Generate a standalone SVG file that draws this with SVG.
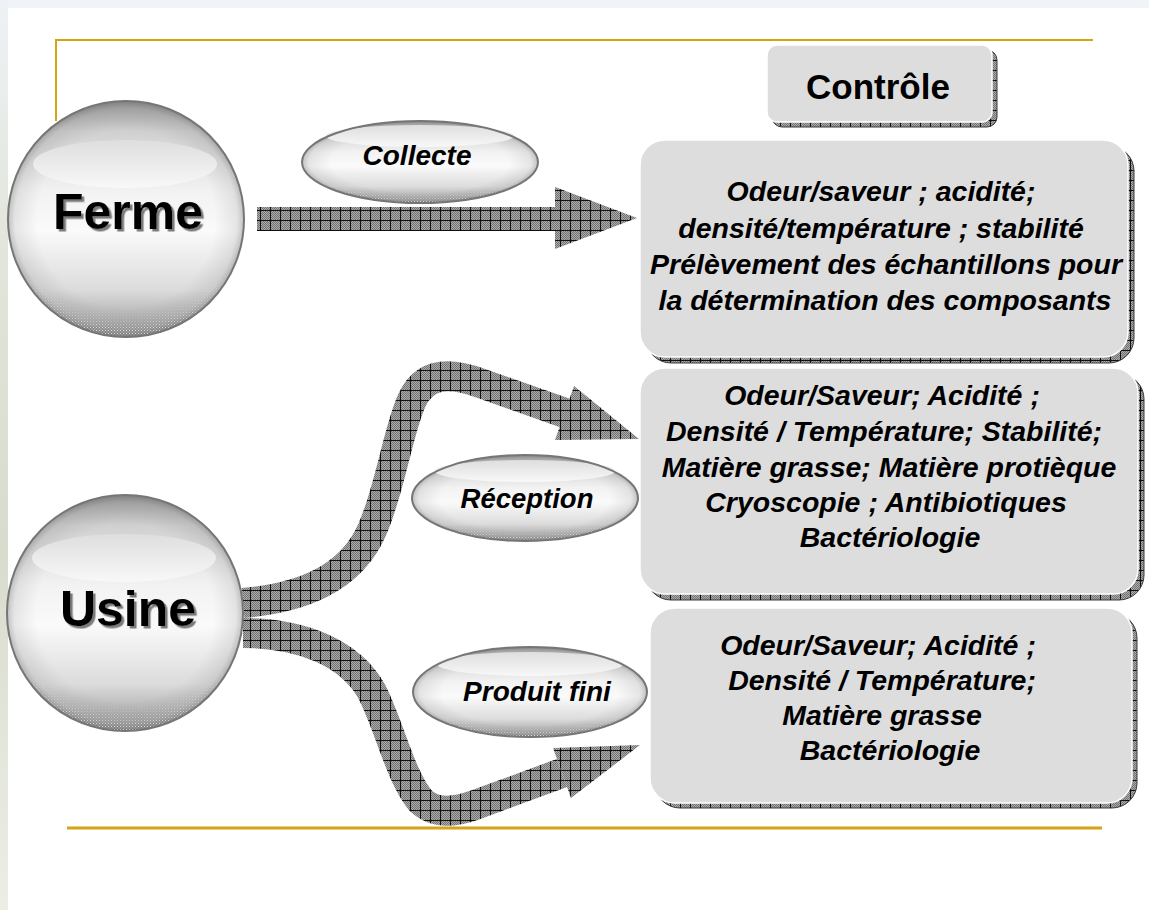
<svg xmlns="http://www.w3.org/2000/svg" width="1149" height="910" viewBox="0 0 1149 910">
<defs>
  <style>
    .lbl{font-family:"Liberation Sans",Arial,sans-serif;font-weight:bold;font-style:italic;fill:#000;text-anchor:middle}
    .big{font-family:"Liberation Sans",Arial,sans-serif;font-weight:bold;font-size:50px;text-anchor:middle;fill:#000;filter:url(#tshadow)}
    .box{fill:#dddddd;stroke:#ffffff;stroke-width:1.5}
    .shadow{fill:url(#grid);stroke:#3a3a3a;stroke-width:1}
    .band{fill:none;stroke:url(#grid);stroke-width:30}
    .head{fill:url(#grid)}
    .outline{fill:none;stroke:#767676;stroke-width:2}
  </style>
  <filter id="tshadow" x="-10%" y="-10%" width="130%" height="140%">
    <feDropShadow dx="2.5" dy="2.5" stdDeviation="0.6" flood-color="#7a7a7a" flood-opacity="1"/>
  </filter>
  <pattern id="fine" width="2" height="2" patternUnits="userSpaceOnUse">
    <rect width="2" height="2" fill="#ababab"/>
    <rect width="1" height="1" fill="#737373"/>
    <rect x="1" y="1" width="1" height="1" fill="#737373"/>
  </pattern>
  <pattern id="grid" width="10" height="10" patternUnits="userSpaceOnUse">
    <rect width="10" height="10" fill="url(#fine)"/>
    <path d="M0 0.5H10M0.5 0V10" stroke="#111" stroke-width="1"/>
  </pattern>
  <pattern id="dots" width="3" height="3" patternUnits="userSpaceOnUse">
    <rect width="1" height="1" fill="#ffffff"/>
    <rect x="1.5" y="1.5" width="1" height="1" fill="#e4e4e4"/>
  </pattern>
  <linearGradient id="sphV" x1="0" y1="0" x2="0" y2="1">
    <stop offset="0" stop-color="#a2a2a2"/>
    <stop offset="0.13" stop-color="#d0d0d0"/>
    <stop offset="0.38" stop-color="#f2f2f2"/>
    <stop offset="0.55" stop-color="#fafafa"/>
    <stop offset="0.8" stop-color="#dcdcdc"/>
    <stop offset="1" stop-color="#969696"/>
  </linearGradient>
  <radialGradient id="edge" cx="0.5" cy="0.5" r="0.5">
    <stop offset="0.75" stop-color="#000" stop-opacity="0"/>
    <stop offset="0.94" stop-color="#000" stop-opacity="0.08"/>
    <stop offset="1" stop-color="#000" stop-opacity="0.22"/>
  </radialGradient>
  <linearGradient id="lens" x1="0" y1="0" x2="0" y2="1">
    <stop offset="0" stop-color="#dedede"/>
    <stop offset="1" stop-color="#f8f8f8"/>
  </linearGradient>
  <radialGradient id="cresc" cx="0.5" cy="0.25" r="0.8">
    <stop offset="0.8" stop-color="#000"/>
    <stop offset="0.92" stop-color="#fff"/>
  </radialGradient>
  <mask id="lowMask" maskContentUnits="objectBoundingBox">
    <rect width="1" height="1" fill="url(#cresc)"/>
  </mask>
  <linearGradient id="leftbg" x1="0" y1="0" x2="0" y2="1">
    <stop offset="0" stop-color="#eef2f6"/>
    <stop offset="0.25" stop-color="#e2e6dc"/>
    <stop offset="0.6" stop-color="#d8dccd"/>
    <stop offset="1" stop-color="#eceee6"/>
  </linearGradient>
</defs>

<g id="background">
  <rect width="1149" height="910" fill="#ffffff"/>
  <rect width="1149" height="8" fill="#f0f3f7"/>
  <rect width="8" height="910" fill="url(#leftbg)"/>
</g>

<g id="frame">
  <path d="M56,121 V40 H1093" fill="none" stroke="#d6a413" stroke-width="2"/>
  <line x1="67" y1="828" x2="1102" y2="828" stroke="#d4a419" stroke-width="3"/>
</g>

<g id="connectors">
  <polygon class="head" points="257,207 555,207 555,187 637,218 555,249 555,231 257,231"/>
  <path class="band" d="M243,603 C300,598 350,580 372,530 C390,490 398,430 412,400 C425,372 450,372 480,383 L565,413"/>
  <polygon class="head" points="574,386 639,439 555,440"/>
  <path class="band" d="M243,633 C300,633 350,652 372,692 C390,728 400,775 420,800 C435,815 455,812 475,805 L562,773"/>
  <polygon class="head" points="553,748 640,745 571,798"/>
</g>

<g id="ferme">
  <circle cx="126" cy="219" r="118" fill="url(#sphV)"/>
  <circle cx="126" cy="219" r="118" fill="url(#edge)"/>
  <circle cx="126" cy="219" r="118" fill="url(#dots)" mask="url(#lowMask)" opacity="0.75"/>
  <ellipse cx="125" cy="164" rx="92" ry="24" fill="url(#lens)"/>
  <circle class="outline" cx="126" cy="219" r="118"/>
  <text class="big" x="128" y="229">Ferme</text>
</g>

<g id="usine">
  <circle cx="125" cy="613" r="118" fill="url(#sphV)"/>
  <circle cx="125" cy="613" r="118" fill="url(#edge)"/>
  <circle cx="125" cy="613" r="118" fill="url(#dots)" mask="url(#lowMask)" opacity="0.75"/>
  <ellipse cx="124" cy="558" rx="92" ry="24" fill="url(#lens)"/>
  <circle class="outline" cx="125" cy="613" r="118"/>
  <text class="big" x="128" y="626">Usine</text>
</g>

<g id="collecte">
  <ellipse cx="420" cy="162" rx="118" ry="41" fill="url(#sphV)"/>
  <ellipse cx="420" cy="162" rx="118" ry="41" fill="url(#edge)"/>
  <ellipse cx="420" cy="162" rx="118" ry="41" fill="url(#dots)" mask="url(#lowMask)" opacity="0.75"/>
  <ellipse cx="420" cy="136" rx="94" ry="11" fill="url(#lens)"/>
  <ellipse class="outline" cx="420" cy="162" rx="118" ry="41" stroke-width="1.5"/>
  <text class="lbl" x="417" y="165" font-size="28">Collecte</text>
</g>

<g id="reception">
  <ellipse cx="525" cy="498" rx="113" ry="43" fill="url(#sphV)"/>
  <ellipse cx="525" cy="498" rx="113" ry="43" fill="url(#edge)"/>
  <ellipse cx="525" cy="498" rx="113" ry="43" fill="url(#dots)" mask="url(#lowMask)" opacity="0.75"/>
  <ellipse cx="525" cy="471" rx="90" ry="11" fill="url(#lens)"/>
  <ellipse class="outline" cx="525" cy="498" rx="113" ry="43" stroke-width="1.5"/>
  <text class="lbl" x="527" y="508" font-size="27.5">Réception</text>
</g>

<g id="produit">
  <ellipse cx="530" cy="692" rx="117" ry="45" fill="url(#sphV)"/>
  <ellipse cx="530" cy="692" rx="117" ry="45" fill="url(#edge)"/>
  <ellipse cx="530" cy="692" rx="117" ry="45" fill="url(#dots)" mask="url(#lowMask)" opacity="0.75"/>
  <ellipse cx="530" cy="664" rx="93" ry="12" fill="url(#lens)"/>
  <ellipse class="outline" cx="530" cy="692" rx="117" ry="45" stroke-width="1.5"/>
  <text class="lbl" x="537" y="701" font-size="28">Produit fini</text>
</g>

<g id="controle">
  <rect class="shadow" x="772" y="50" width="225" height="77" rx="10"/>
  <rect class="box" x="767" y="45" width="225" height="77" rx="10"/>
  <text x="878" y="99" font-family="Liberation Sans, Arial, sans-serif" font-weight="bold" font-size="35" text-anchor="middle">Contrôle</text>
</g>

<g id="box-ferme">
  <rect class="shadow" x="646" y="146" width="488" height="217" rx="25"/>
  <rect class="box" x="640" y="140" width="488" height="217" rx="25"/>
  <text class="lbl" font-size="28.5">
    <tspan x="885" y="201">Odeur/saveur ; acidité;</tspan>
    <tspan x="885" y="238">densité/température ; stabilité</tspan>
    <tspan x="890" y="274">Prélèvement des échantillons pour</tspan>
    <tspan x="885" y="310">la détermination des composants</tspan>
  </text>
</g>

<g id="box-reception">
  <rect class="shadow" x="646" y="374" width="498" height="226" rx="25"/>
  <rect class="box" x="640" y="368" width="498" height="226" rx="25"/>
  <text class="lbl" font-size="28.5">
    <tspan x="886" y="405">Odeur/Saveur; Acidité ;</tspan>
    <tspan x="888" y="441">Densité / Température; Stabilité;</tspan>
    <tspan x="893" y="477">Matière grasse; Matière protièque</tspan>
    <tspan x="890" y="512">Cryoscopie ; Antibiotiques</tspan>
    <tspan x="890" y="547">Bactériologie</tspan>
  </text>
</g>

<g id="box-produit">
  <rect class="shadow" x="655" y="613" width="482" height="195" rx="25"/>
  <rect class="box" x="650" y="608" width="482" height="195" rx="25"/>
  <text class="lbl" font-size="28.5">
    <tspan x="882" y="655">Odeur/Saveur; Acidité ;</tspan>
    <tspan x="886" y="690">Densité / Température;</tspan>
    <tspan x="886" y="725">Matière grasse</tspan>
    <tspan x="890" y="760">Bactériologie</tspan>
  </text>
</g>
</svg>
